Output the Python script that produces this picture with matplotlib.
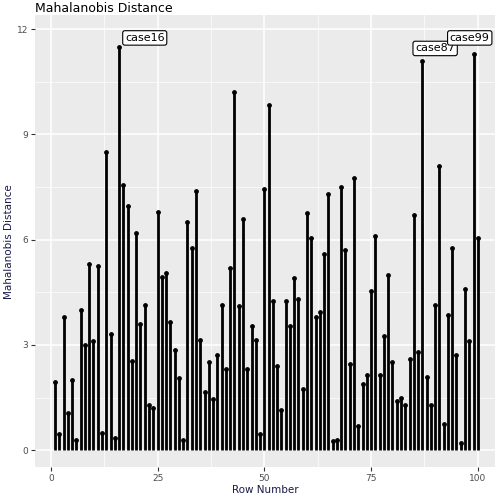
import matplotlib
matplotlib.use("Agg")
import matplotlib.pyplot as plt
import numpy as np

rows = np.arange(1, 101)
dist = [1.95,0.45,3.8,1.05,2.0,0.3,4.0,3.0,5.3,3.1,5.25,0.5,8.5,3.3,0.35,11.5,7.55,6.95,2.55,6.2,
        3.6,4.15,1.3,1.2,6.8,4.95,5.05,3.65,2.85,2.05,0.3,6.5,5.75,7.4,3.15,1.65,2.5,1.45,2.7,4.15,
        2.3,5.2,10.2,4.1,6.6,2.3,3.55,3.15,0.45,7.45,9.85,4.25,2.4,1.15,4.25,3.55,4.9,4.3,1.75,6.75,
        6.05,3.8,3.95,5.6,7.3,0.25,0.3,7.5,5.7,2.45,7.75,0.7,1.9,2.15,4.55,6.1,2.15,3.25,5.0,2.5,
        1.4,1.5,1.3,2.6,6.7,2.8,11.1,2.1,1.3,4.15,8.1,0.75,3.85,5.75,2.7,0.2,4.6,3.1,11.3,6.05]
labels = ["case16", "case87", "case99"]
label_rows = [16, 87, 99]
label_pos = [(22, 11.75), (90, 11.45), (98.1, 11.75)]

fig = plt.figure(figsize=(5.04, 5.04), dpi=100)
ax = fig.add_axes([0.069, 0.073, 0.913, 0.897])
ax.set_facecolor("#EBEBEB")
ax.vlines(rows, 0, dist, color="black", linewidth=2)
ax.scatter(rows, dist, color="black", s=6, zorder=3)
for lab, (lx, ly) in zip(labels, label_pos):
    ax.text(lx, ly, lab, ha="center", va="center", fontsize=8, zorder=4,
            bbox=dict(boxstyle="round,pad=0.2", fc="white", ec="black", lw=0.8))
ax.set_xlim(-3.75, 104)
ax.set_ylim(-0.485, 12.4)
ax.set_xticks([0, 25, 50, 75, 100])
ax.set_yticks([0, 3, 6, 9, 12])
ax.set_xticks([12.5, 37.5, 62.5, 87.5], minor=True)
ax.set_yticks([1.5, 4.5, 7.5, 10.5], minor=True)
ax.grid(True, which="major", color="white", linewidth=1.1)
ax.grid(True, which="minor", color="white", linewidth=0.5)
ax.set_axisbelow(True)
for s in ax.spines.values():
    s.set_visible(False)
ax.tick_params(which="major", length=3, color="#333333", labelsize=6.5, labelcolor="#4D4D4D", pad=2)
ax.tick_params(which="minor", length=0)
ax.set_xlabel("Row Number", fontsize=7.5, color="#1a1a4a", labelpad=1)
ax.set_ylabel("Mahalanobis Distance", fontsize=7.5, color="#1a1a4a", labelpad=2)
fig.text(0.069, 0.997, "Mahalanobis Distance", fontsize=9, va="top", ha="left")
fig.savefig("out.png", dpi=100)
